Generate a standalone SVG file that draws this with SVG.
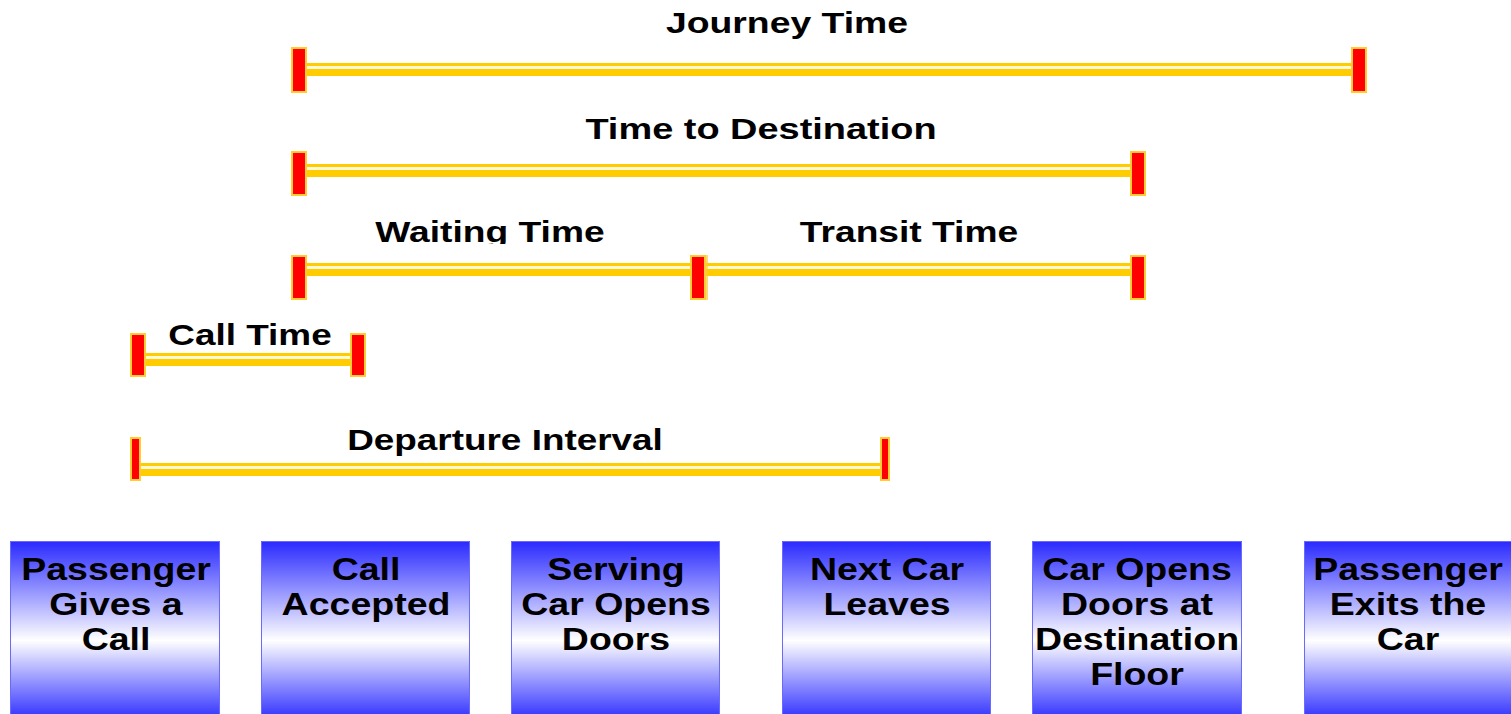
<svg xmlns="http://www.w3.org/2000/svg" width="1511" height="714" viewBox="0 0 1511 714">
  <defs>
    <linearGradient id="boxFill" x1="0" y1="0" x2="0" y2="1">
      <stop offset="0" stop-color="#2a2aff"/>
      <stop offset="0.55" stop-color="#ffffff"/>
      <stop offset="1" stop-color="#2a2aff"/>
    </linearGradient>
    <clipPath id="cutLabels">
      <rect x="0" y="0" width="1511" height="244"/>
    </clipPath>
  </defs>
  <style>
    .bar { fill: #ffcc00; }
    .shine { fill: #ffffff; opacity: 0.85; }
    .cap { fill: #ff0000; stroke: #ffcc33; stroke-width: 2; }
    .label { font-family: "Liberation Sans", Arial, sans-serif; font-weight: bold; font-size: 30px; fill: #000; text-anchor: middle; }
    .box { fill: url(#boxFill); stroke: #6a6aff; stroke-width: 1; }
    .boxtext { font-family: "Liberation Sans", Arial, sans-serif; font-weight: bold; font-size: 31px; fill: #000; text-anchor: middle; }
  </style>

  <rect width="1511" height="714" fill="#ffffff"/>

  <!-- interval bars with end caps -->
  <g id="connectors">
    <!-- Journey Time -->
    <g id="journey-time">
      <rect class="bar" x="300" y="63" width="1056" height="13"/>
      <rect class="shine" x="300" y="66" width="1056" height="3"/>
      <rect class="cap" x="292" y="48" width="14" height="44"/>
      <rect class="cap" x="1352" y="48" width="14" height="44"/>
      <text class="label" transform="translate(787 33) scale(1.245 1)">Journey Time</text>
    </g>
    <!-- Time to Destination -->
    <g id="time-to-destination">
      <rect class="bar" x="300" y="164" width="836" height="13"/>
      <rect class="shine" x="300" y="167" width="836" height="3"/>
      <rect class="cap" x="292" y="152" width="14" height="43"/>
      <rect class="cap" x="1131" y="152" width="14" height="43"/>
      <text class="label" transform="translate(761 139) scale(1.265 1)">Time to Destination</text>
    </g>
    <!-- Waiting Time / Transit Time -->
    <g id="waiting-transit">
      <rect class="bar" x="300" y="263" width="836" height="13"/>
      <rect class="shine" x="300" y="266" width="836" height="3"/>
      <rect class="cap" x="292" y="256" width="14" height="43"/>
      <rect class="cap" x="694" y="256" width="13" height="43" opacity="0.7"/>
      <rect class="cap" x="691" y="256" width="14" height="43"/>
      <rect class="cap" x="1131" y="256" width="14" height="43"/>
      <g clip-path="url(#cutLabels)">
        <text class="label" transform="translate(490 242) scale(1.24 1)">Waiting Time</text>
        <text class="label" transform="translate(909 242) scale(1.24 1)">Transit Time</text>
      </g>
    </g>
    <!-- Call Time -->
    <g id="call-time">
      <rect class="bar" x="140" y="353" width="216" height="13"/>
      <rect class="shine" x="140" y="356" width="216" height="3"/>
      <rect class="cap" x="131" y="334" width="14" height="42"/>
      <rect class="cap" x="351" y="334" width="14" height="42"/>
      <text class="label" transform="translate(250 345) scale(1.23 1)">Call Time</text>
    </g>
    <!-- Departure Interval -->
    <g id="departure-interval">
      <rect class="bar" x="136" y="463" width="750" height="13"/>
      <rect class="shine" x="136" y="466" width="750" height="3"/>
      <rect class="cap" x="131" y="438" width="9" height="42"/>
      <rect class="cap" x="881" y="438" width="8" height="42"/>
      <text class="label" transform="translate(505 450) scale(1.23 1)">Departure Interval</text>
    </g>
  </g>

  <!-- event boxes -->
  <g id="passenger-gives-call">
    <rect class="box" x="10.5" y="541.5" width="209" height="180"/>
    <text class="boxtext" transform="translate(116 580) scale(1.21 1)">Passenger</text>
    <text class="boxtext" transform="translate(116 615) scale(1.21 1)">Gives a</text>
    <text class="boxtext" transform="translate(116 650) scale(1.21 1)">Call</text>
  </g>
  <g id="call-accepted">
    <rect class="box" x="261.5" y="541.5" width="208" height="180"/>
    <text class="boxtext" transform="translate(366 580) scale(1.21 1)">Call</text>
    <text class="boxtext" transform="translate(366 615) scale(1.21 1)">Accepted</text>
  </g>
  <g id="serving-car-opens">
    <rect class="box" x="511.5" y="541.5" width="208" height="180"/>
    <text class="boxtext" transform="translate(616 580) scale(1.21 1)">Serving</text>
    <text class="boxtext" transform="translate(616 615) scale(1.21 1)">Car Opens</text>
    <text class="boxtext" transform="translate(616 650) scale(1.21 1)">Doors</text>
  </g>
  <g id="next-car-leaves">
    <rect class="box" x="782.5" y="541.5" width="208" height="180"/>
    <text class="boxtext" transform="translate(887 580) scale(1.21 1)">Next Car</text>
    <text class="boxtext" transform="translate(887 615) scale(1.21 1)">Leaves</text>
  </g>
  <g id="car-opens-destination">
    <rect class="box" x="1032.5" y="541.5" width="209" height="180"/>
    <text class="boxtext" transform="translate(1137 580) scale(1.21 1)">Car Opens</text>
    <text class="boxtext" transform="translate(1137 615) scale(1.21 1)">Doors at</text>
    <text class="boxtext" transform="translate(1137 650) scale(1.21 1)">Destination</text>
    <text class="boxtext" transform="translate(1137 685) scale(1.21 1)">Floor</text>
  </g>
  <g id="passenger-exits">
    <rect class="box" x="1304.5" y="541.5" width="209" height="180"/>
    <text class="boxtext" transform="translate(1408 580) scale(1.21 1)">Passenger</text>
    <text class="boxtext" transform="translate(1408 615) scale(1.21 1)">Exits the</text>
    <text class="boxtext" transform="translate(1408 650) scale(1.21 1)">Car</text>
  </g>
</svg>
